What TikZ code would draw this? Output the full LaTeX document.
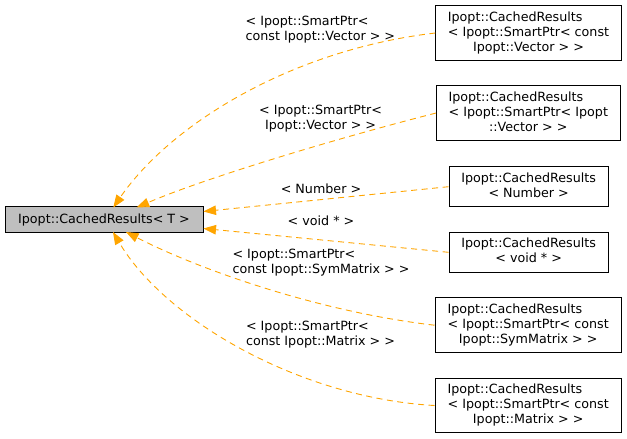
\documentclass[tikz,border=0pt]{standalone}
\usepackage{fontspec}
\setmainfont{DejaVu Sans}
\usetikzlibrary{arrows.meta}

\definecolor{edgeorange}{HTML}{FFA500}

\tikzset{
  classbox/.style={draw=black, line width=0.9pt, fill=white, inner sep=0pt,
    font=\fontsize{12.7}{15}\selectfont},
  basebox/.style={classbox, fill=black!25},
  edgelabel/.style={inner sep=0pt, font=\fontsize{12.7}{15}\selectfont},
  inherit/.style={draw=edgeorange, line width=0.9pt, dash pattern=on 6pt off 4.5pt,
    -{Triangle[length=12.5pt,width=9.5pt,fill=edgeorange]}}
}
\newcommand{\lastline}[1]{\multicolumn{1}{@{}c@{}}{#1}}

\begin{document}
\begin{tikzpicture}[x=1pt,y=-1pt]
\useasboundingbox (0,0) rectangle (627,439);

% base template
\node[basebox, minimum width=198pt, minimum height=25.5pt] (base) at (104,219.5)
  {Ipopt::CachedResults< T >};

% instantiations
\node[classbox, minimum width=185.5pt, minimum height=55.5pt] (vconst) at (528.5,33)
  {\begin{tabular}{@{}l@{}}Ipopt::CachedResults\\< Ipopt::SmartPtr< const\\\lastline{Ipopt::Vector > >}\end{tabular}};
\node[classbox, minimum width=183.5pt, minimum height=54.5pt] (vec) at (528.3,113)
  {\begin{tabular}{@{}l@{}}Ipopt::CachedResults\\< Ipopt::SmartPtr< Ipopt\\\lastline{::Vector > >}\end{tabular}};
\node[classbox, minimum width=159.5pt, minimum height=40pt] (num) at (528.7,186.7)
  {\begin{tabular}{@{}c@{}}Ipopt::CachedResults\\< Number >\end{tabular}};
\node[classbox, minimum width=159.5pt, minimum height=40pt] (voidp) at (528.7,252.3)
  {\begin{tabular}{@{}c@{}}Ipopt::CachedResults\\< void * >\end{tabular}};
\node[classbox, minimum width=186.5pt, minimum height=55pt] (symm) at (528.2,325.2)
  {\begin{tabular}{@{}l@{}}Ipopt::CachedResults\\< Ipopt::SmartPtr< const\\\lastline{Ipopt::SymMatrix > >}\end{tabular}};
\node[classbox, minimum width=186.5pt, minimum height=54.5pt] (mat) at (528.2,405.5)
  {\begin{tabular}{@{}l@{}}Ipopt::CachedResults\\< Ipopt::SmartPtr< const\\\lastline{Ipopt::Matrix > >}\end{tabular}};

% edge labels
\node[edgelabel] (lvconst) at (320.4,29.7)
  {\begin{tabular}{@{}l@{}}< Ipopt::SmartPtr<\\const Ipopt::Vector > >\end{tabular}};
\node[edgelabel] (lvec) at (320.6,119.2)
  {\begin{tabular}{@{}c@{}}< Ipopt::SmartPtr<\\Ipopt::Vector > >\end{tabular}};
\node[edgelabel] (lnum) at (321,189) {< Number >};
\node[edgelabel] (lvoid) at (321,221) {< void * >};
\node[edgelabel] (lsymm) at (321,262.5)
  {\begin{tabular}{@{}l@{}}< Ipopt::SmartPtr<\\const Ipopt::SymMatrix > >\end{tabular}};
\node[edgelabel] (lmat) at (320.5,335)
  {\begin{tabular}{@{}l@{}}< Ipopt::SmartPtr<\\const Ipopt::Matrix > >\end{tabular}};

% anchor points on the base box
\coordinate (t1) at (113.3,207.5);
\coordinate (t2) at (136.7,207.5);
\coordinate (t3) at (203.5,211.5);
\coordinate (t4) at (203.5,228.5);
\coordinate (t5) at (126,232);
\coordinate (t6) at (113,232);

% inheritance edges
\draw[inherit] (vconst.west) .. controls (290,50) and (170,125) .. (t1);
\draw[inherit] (vec.west) .. controls (330,140) and (200,180) .. (t2);
\draw[inherit] (num.west) -- (t3);
\draw[inherit] (voidp.west) -- (t4);
\draw[inherit] (symm.west) .. controls (320,312) and (200,270) .. (t5);
\draw[inherit] (mat.west) .. controls (300,398) and (165,320) .. (t6);
\end{tikzpicture}
\end{document}
